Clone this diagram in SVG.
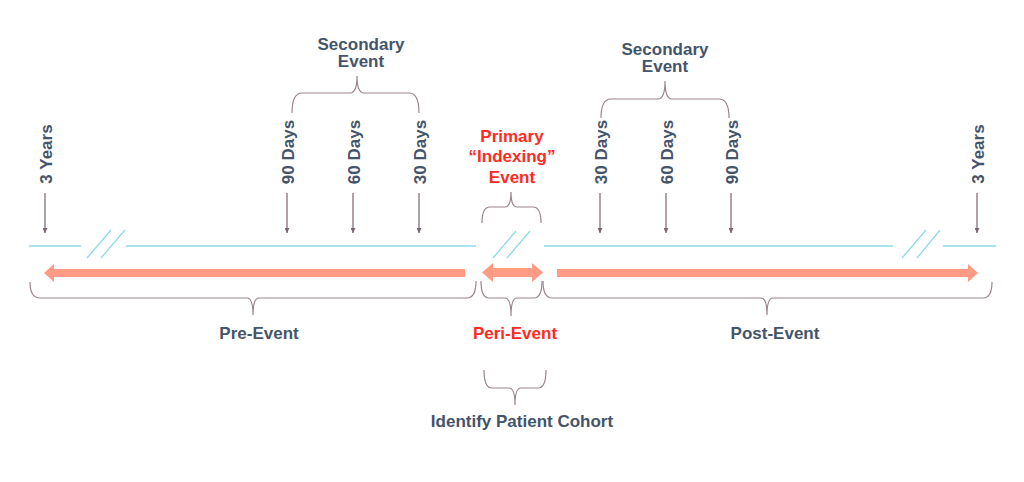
<svg xmlns="http://www.w3.org/2000/svg" width="1024" height="482" viewBox="0 0 1024 482">
<style>
.t{font-family:"Liberation Sans",Arial,sans-serif;font-weight:bold;font-size:17px;fill:#44546a;}
.r{fill:#ff2a22;}
.m{text-anchor:middle;}
.br{fill:none;stroke:#9a8490;stroke-width:1.2;}
.ax{stroke:#7d6272;stroke-width:1.2;}
.cy{stroke:#8ddbe8;stroke-width:1.3;fill:none;}
.sa{fill:#ff9a85;}
</style>
<defs>
<marker id="ah" viewBox="0 0 10 10" refX="10" refY="5" markerWidth="5" markerHeight="5" orient="auto" markerUnits="userSpaceOnUse">
<path d="M0,0 L10,5 L0,10 z" fill="#7d6272"/>
</marker>
</defs>
<rect width="1024" height="482" fill="#ffffff"/>

<g id="timeline">
<path class="cy" d="M29,246 H81 M126,246 H476 M544,246 H893 M943,246 H996"/>
<path class="cy" d="M87,258 L111,230 M101,258 L125,230 M493,258 L516,231 M507,258 L530,231 M902,258 L926,230 M917,258 L940,230"/>
</g>

<g id="arrows-range">
<path class="sa" d="M44,273 L54,264 L54,269 H465 V277 H54 V282 Z"/>
<path class="sa" d="M482,272.5 L493,263 L493,268 H532 V263 L543,272.5 L532,282 V277 H493 V282 Z"/>
<path class="sa" d="M557,269 H968 V264 L978,273 L968,282 V277 H557 Z"/>
</g>

<g id="connectors">
<line class="ax" x1="45" y1="193" x2="45" y2="233" marker-end="url(#ah)"/>
<line class="ax" x1="287" y1="193" x2="287" y2="233" marker-end="url(#ah)"/>
<line class="ax" x1="353" y1="193" x2="353" y2="233" marker-end="url(#ah)"/>
<line class="ax" x1="419" y1="193" x2="419" y2="233" marker-end="url(#ah)"/>
<line class="ax" x1="600" y1="193" x2="600" y2="233" marker-end="url(#ah)"/>
<line class="ax" x1="666" y1="193" x2="666" y2="233" marker-end="url(#ah)"/>
<line class="ax" x1="731" y1="193" x2="731" y2="233" marker-end="url(#ah)"/>
<line class="ax" x1="977" y1="193" x2="977" y2="233" marker-end="url(#ah)"/>
</g>

<g id="braces">
<path class="br" d="M292,113 Q292,93 302,93 H350 Q357,93 357,76 Q357,93 364,93 H409 Q419,93 419,113"/>
<path class="br" d="M601,118 Q601,99 611,99 H658 Q665,99 665,81 Q665,99 672,99 H719 Q729,99 729,118"/>
<path class="br" d="M482,223 Q482,207 490,207 H505 Q511,207 511,192 Q511,207 517,207 H533 Q541,207 541,223"/>
<path class="br" d="M30,282 Q30,298 40,298 H247 Q253,298 253,315 Q253,298 259,298 H467 Q476,298 476,281"/>
<path class="br" d="M481,281 Q481,298 489,298 H505 Q511,298 511,316 Q511,298 517,298 H534 Q542,298 542,281"/>
<path class="br" d="M543,281 Q543,298 552,298 H761 Q767,298 767,315 Q767,298 773,298 H983 Q992,298 992,282"/>
<path class="br" d="M484,370 Q484,388 492,388 H509 Q515,388 515,405 Q515,388 521,388 H538 Q546,388 546,370"/>
</g>

<g id="labels-top">
<text class="t m" x="361" y="50">Secondary</text>
<text class="t m" x="361" y="67">Event</text>
<text class="t m" x="665" y="55">Secondary</text>
<text class="t m" x="665" y="72">Event</text>
<text class="t m r" x="512" y="142">Primary</text>
<text class="t m r" x="512" y="162">“Indexing”</text>
<text class="t m r" x="512" y="183">Event</text>
</g>

<g id="labels-vertical">
<text class="t m" transform="translate(52,154) rotate(-90)">3 Years</text>
<text class="t m" transform="translate(294,152) rotate(-90)">90 Days</text>
<text class="t m" transform="translate(360,152) rotate(-90)">60 Days</text>
<text class="t m" transform="translate(426,152) rotate(-90)">30 Days</text>
<text class="t m" transform="translate(607,152) rotate(-90)">30 Days</text>
<text class="t m" transform="translate(673,152) rotate(-90)">60 Days</text>
<text class="t m" transform="translate(738,152) rotate(-90)">90 Days</text>
<text class="t m" transform="translate(984,154) rotate(-90)">3 Years</text>
</g>

<g id="labels-bottom">
<text class="t m" x="259" y="339">Pre-Event</text>
<text class="t m r" x="515" y="339">Peri-Event</text>
<text class="t m" x="775" y="339">Post-Event</text>
<text class="t m" x="522" y="427">Identify Patient Cohort</text>
</g>
</svg>
